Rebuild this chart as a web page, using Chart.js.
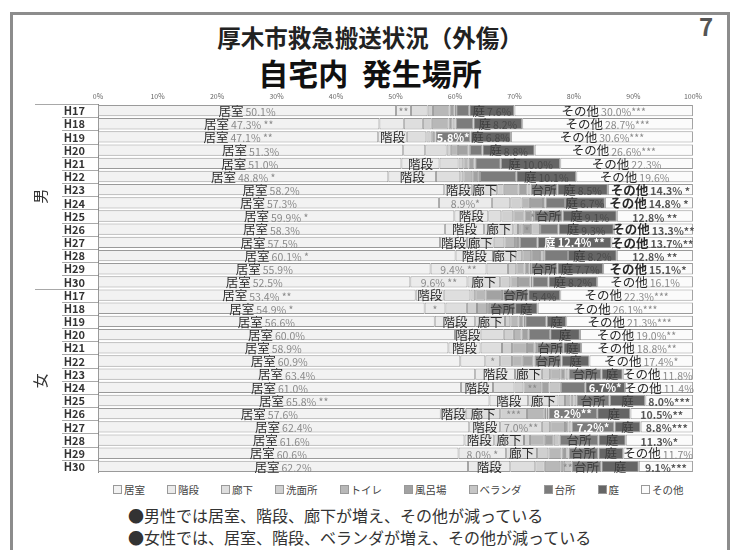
<!DOCTYPE html>
<html>
<head>
<meta charset="utf-8">
<script src="https://cdn.jsdelivr.net/npm/chart.js@4.4.1/dist/chart.umd.min.js"></script>
<style>
  body { margin: 0; width: 734px; height: 550px; overflow: hidden; background: #fff; position: relative;
         font-family: "Noto Sans CJK JP", sans-serif; }
  #frame { position: absolute; left: 10px; top: 12px; width: 720px; height: 570px; border: 3px solid #8c8c8c; box-sizing: border-box; }
  #t1 { position: absolute; left: 0; width: 740px; top: 21px; text-align: center; font-size: 23.5px; font-weight: 700; color: #222; line-height: 32px; }
  #t2 { position: absolute; left: 0; width: 740px; top: 51px; text-align: center; font-size: 30px; font-weight: 700; color: #111; line-height: 42px; }
  #page { position: absolute; left: 699px; top: 8px; font-size: 24px; font-weight: 700; color: #555; }
  #wrap { position: absolute; left: 30px; top: 88px; }
  #legend { position: absolute; left: 113px; top: 482px; display: flex; gap: 22px; font-size: 10.5px; color: #444; }
  #legend span.box { display: inline-block; width: 7px; height: 7px; border: 1px solid #999; margin-right: 2px; vertical-align: 0px; }
  .note { position: absolute; left: 128px; font-size: 16px; color: #333; line-height: 22px; }
</style>
</head>
<body>
<div id="frame"></div>
<div id="t1">厚木市救急搬送状況（外傷）</div>
<div id="t2">自宅内&nbsp;&nbsp;発生場所</div>
<div id="page">7</div>
<div id="wrap"><canvas id="chart" width="675" height="385"></canvas></div>
<div id="legend"></div>
<div class="note" style="top:504px">●男性では居室、階段、廊下が増え、その他が減っている</div>
<div class="note" style="top:526px">●女性では、居室、階段、ベランダが増え、その他が減っている</div>

<script>
const years = ["H17", "H18", "H19", "H20", "H21", "H22", "H23", "H24", "H25", "H26", "H27", "H28", "H29", "H30"];
const rowLabels = years.concat(years); // 男 then 女
const groups = ["男", "女"];
const categories = ["居室", "階段", "廊下", "洗面所", "トイレ", "風呂場", "ベランダ", "台所", "庭", "その他"];
const colors = ["#f2f2f2", "#ebebeb", "#dedede", "#d0d0d0", "#b8b8b8", "#a2a2a2", "#c6c6c6", "#7c7c7c", "#656565", "#fbfbfb"];

// shares in %, 男 H17..H30 then 女 H17..H30
const living   = [50.1, 47.3, 47.1, 51.3, 51.0, 48.8, 58.2, 57.3, 59.9, 58.3, 57.5, 60.1, 55.9, 52.5,
                  53.4, 54.9, 56.6, 60.0, 58.9, 60.9, 63.4, 61.0, 65.8, 57.6, 62.4, 61.6, 60.6, 62.2];
const stairs   = [2.5, 4.1, 4.8, 3.7, 6.4, 8.0, 4.7, 8.9, 5.7, 6.6, 4.5, 6.3, 9.4, 9.6,
                  4.7, 3.5, 6.8, 4.3, 5.4, 4.2, 6.7, 5.4, 6.5, 4.2, 5.2, 5.0, 8.0, 7.1];
const hallway  = [2.8, 3.2, 3.3, 3.6, 3.2, 4.1, 4.2, 3.1, 2.2, 4.9, 4.5, 3.9, 3.6, 5.5,
                  4.5, 3.6, 5.0, 3.9, 3.6, 2.5, 4.5, 3.6, 5.1, 5.8, 7.0, 5.0, 5.2, 4.2];
const washroom = [0.9, 1.5, 0.7, 0.7, 0.8, 0.5, 1.1, 1.9, 2.0, 0.8, 1.8, 1.0, 1.4, 1.7,
                  0.8, 1.7, 0.9, 1.7, 1.7, 2.0, 1.4, 1.5, 1.1, 4.5, 1.4, 1.0, 1.9, 1.6];
const toilet   = [2.8, 2.8, 0.6, 1.2, 0.9, 1.5, 2.5, 1.4, 1.9, 0.8, 1.8, 1.5, 1.4, 1.3,
                  1.7, 1.7, 1.4, 1.3, 2.5, 1.8, 1.7, 3.0, 0.9, 3.0, 2.5, 2.5, 2.2, 2.6];
const bath     = [0.8, 0.7, 0.2, 1.8, 1.0, 1.0, 1.5, 2.2, 1.1, 1.4, 0.5, 1.5, 0.8, 2.1,
                  2.8, 0.5, 0.8, 1.2, 1.3, 1.8, 0.9, 1.4, 0.5, 0.3, 0.6, 1.5, 0.6, 0.6];
const veranda  = [0.3, 0.5, 0.1, 0.2, 0.1, 0.3, 0.5, 0.4, 0.5, 1.5, 0.3, 0.7, 0.3, 0.3,
                  0.2, 0.0, 0.3, 0.0, 0.4, 0.2, 0.5, 1.9, 0.5, 0.3, 0.5, 1.0, 0.6, 1.3];
const kitchen  = [2.2, 3.0, 5.8, 2.1, 4.3, 6.1, 4.5, 3.3, 4.8, 3.1, 3.0, 4.0, 4.4, 2.7,
                  4.2, 4.2, 3.6, 3.6, 4.4, 4.5, 5.5, 4.1, 5.6, 8.2, 7.2, 6.5, 5.0, 5.0];
const garden   = [7.6, 8.2, 6.8, 8.8, 10.0, 10.1, 8.5, 6.7, 9.1, 9.3, 12.4, 8.2, 7.7, 8.2,
                  5.4, 3.8, 3.3, 5.0, 3.0, 4.7, 3.6, 6.7, 6.0, 5.6, 4.4, 4.6, 4.2, 6.3];
const other    = [30.0, 28.7, 30.6, 26.6, 22.3, 19.6, 14.3, 14.8, 12.8, 13.3, 13.7, 12.8, 15.1, 16.1,
                  22.3, 26.1, 21.3, 19.0, 18.8, 17.4, 11.8, 11.4, 8.0, 10.5, 8.8, 11.3, 11.7, 9.1];

// labels in the cells: "name|value", "!" = white bold, "#" = bold
const livingMarks = ["", " **", " **", "", "", " *", "", "", " *", "", "", " *", "", "",
                     " **", " *", "", "", "", "", "", "", " **", "", "", "", "", ""];
const stairsLabels = ["|**", "", "階段", "", "階段", "階段", "階段", "|8.9%*", "階段", "階段", "階段", "階段", "|9.4% **", "|9.6% **",
                      "階段", "|*", "階段", "階段", "階段", "", "階段", "階段", "階段", "階段", "階段", "階段", "|8.0% *", "階段"];
const hallLabels = ["", "", "", "", "", "", "廊下", "", "", "廊下", "廊下", "廊下", "", "廊下",
                    "", "", "廊下", "", "", "|*", "廊下", "", "廊下", "廊下", "|7.0%**", "廊下", "廊下", ""];
const washLabels = Array(28).fill("");
washLabels[23] = "|***";
const toiletLabels = Array(28).fill("");
toiletLabels[21] = "|**";
const bathLabels = Array(28).fill("");
bathLabels[9] = "|*";
const verandaLabels = Array(28).fill("");
verandaLabels[8] = "|*";
verandaLabels[27] = "|**";
const kitchenLabels = ["", "", "!5.8%*", "", "", "", "台所", "", "台所", "", "", "", "台所", "",
                       "台所", "台所", "", "", "台所", "台所", "台所", "", "台所", "!8.2%**", "!7.2%*", "台所", "台所", "台所"];
const gardenLabels = ["庭|7.6%", "庭|8.2%", "庭|6.8%", "庭|8.8%", "庭|10.0%", "庭|10.1%", "庭|8.5%", "庭|6.7%", "庭|9.1%", "庭|9.3%", "!庭 12.4% **", "庭|8.2%", "庭|7.7%", "庭|8.2%",
                      "|5.4%", "庭", "庭", "庭", "庭", "庭", "庭", "!6.7%*", "庭", "庭", "庭", "庭", "庭", "庭"];
const otherLabels = ["その他|30.0%***", "その他|28.7%***", "その他|30.6%***", "その他|26.6%***", "その他|22.3%", "その他|19.6%",
                     "#その他|14.3% *", "#その他|14.8% *", "#|12.8% **", "#その他|13.3%**", "#その他|13.7%**", "#|12.8% **", "#その他|15.1%*", "その他|16.1%",
                     "その他|22.3%***", "その他|26.1%***", "その他|21.3%***", "その他|19.0%**", "その他|18.8%**", "その他|17.4%*", "その他|11.8%",
                     "その他|11.4%", "#|8.0%***", "#|10.5%**", "#|8.8%***", "#|11.3%*", "その他|11.7%", "#|9.1%***"];
const livingLabels = living.map((v, i) => "居室|" + v.toFixed(1) + "%" + livingMarks[i]);

const series = [living, stairs, hallway, washroom, toilet, bath, veranda, kitchen, garden, other];
const cellLabels = [livingLabels, stairsLabels, hallLabels, washLabels, toiletLabels, bathLabels, verandaLabels, kitchenLabels, gardenLabels, otherLabels];

const FONT = '"Noto Sans CJK JP", sans-serif';

const cellLabelPlugin = {
  id: "cellLabels",
  afterDatasetsDraw(chart) {
    const ctx = chart.ctx;
    ctx.save();
    ctx.textBaseline = "middle";
    chart.data.datasets.forEach((ds, di) => {
      const meta = chart.getDatasetMeta(di);
      const dark = di >= 7 && di <= 8;
      meta.data.forEach((bar, j) => {
        let txt = cellLabels[di][j];
        if (!txt) return;
        const cx = (bar.x + bar.base) / 2;
        const cy = bar.y + 0.5;
        if (txt[0] === "!") {
          ctx.font = "700 11px " + FONT;
          ctx.fillStyle = "#ffffff";
          ctx.textAlign = "center";
          ctx.fillText(txt.slice(1), cx, cy);
          return;
        }
        let bold = false;
        if (txt[0] === "#") { bold = true; txt = txt.slice(1); }
        const parts = txt.split("|");
        const name = parts[0];
        const val = parts[1] || "";
        const nameFont = (bold ? "700 " : "400 ") + "12.5px " + FONT;
        const valFont = (bold ? "700 " : "400 ") + "10.5px " + FONT;
        ctx.font = nameFont;
        const wn = name ? ctx.measureText(name).width : 0;
        ctx.font = valFont;
        const wv = val ? ctx.measureText(val).width : 0;
        const gap = name && val ? 2 : 0;
        let x = cx - (wn + gap + wv) / 2;
        ctx.textAlign = "left";
        if (name) {
          ctx.font = nameFont;
          ctx.fillStyle = dark ? "#3c3c3c" : "#2a2a2a";
          ctx.fillText(name, x, cy);
          x += wn + gap;
        }
        if (val) {
          ctx.font = valFont;
          ctx.fillStyle = dark ? "#4a4a4a" : (bold ? "#555" : "#8a8a8a");
          ctx.fillText(val, x, cy + 1);
        }
      });
    });
    ctx.restore();
  }
};

// year labels, group labels and the separator lines of the two-level category axis
const groupPlugin = {
  id: "groupAxis",
  afterDraw(chart) {
    const ctx = chart.ctx;
    const y = chart.scales.y;
    const left = chart.chartArea.left;
    const n = rowLabels.length;
    const step = (y.bottom - y.top) / n;
    ctx.save();
    ctx.strokeStyle = "#a8a8a8";
    ctx.lineWidth = 1;
    for (let i = 0; i <= n; i++) {
      const yy = Math.round(y.top + i * step) + 0.5;
      const x0 = (i % 14 === 0) ? 5 : 32;
      ctx.beginPath();
      ctx.moveTo(x0, yy);
      ctx.lineTo(left, yy);
      ctx.stroke();
    }
    ctx.fillStyle = "#333";
    ctx.font = "700 11px " + FONT;
    ctx.textAlign = "right";
    ctx.textBaseline = "middle";
    rowLabels.forEach((lab, i) => {
      ctx.fillText(lab, left - 13, y.getPixelForValue(i) + 0.5);
    });
    ctx.font = "400 15px " + FONT;
    ctx.textAlign = "center";
    groups.forEach((g, k) => {
      const cy = y.top + (k * 14 + 7) * step;
      ctx.save();
      ctx.translate(10, cy);
      ctx.rotate(-Math.PI / 2);
      ctx.fillText(g, 0, 0);
      ctx.restore();
    });
    ctx.restore();
  }
};

const chart = new Chart(document.getElementById("chart"), {
  type: "bar",
  data: {
    labels: rowLabels,
    datasets: categories.map((c, i) => ({
      label: c,
      data: series[i],
      backgroundColor: colors[i],
      borderColor: "#9a9a9a",
      borderWidth: 1,
      borderSkipped: false,
      barPercentage: 0.86,
      categoryPercentage: 1
    }))
  },
  options: {
    indexAxis: "y",
    responsive: false,
    animation: false,
    devicePixelRatio: 1,
    layout: { padding: { right: 10, top: 0, bottom: 0, left: 0 } },
    plugins: { legend: { display: false }, tooltip: { enabled: false } },
    scales: {
      x: {
        position: "top",
        stacked: true,
        min: 0,
        max: 100,
        ticks: { stepSize: 10, callback: (v) => v + "%", font: { size: 7, family: FONT }, color: "#666", padding: 3, maxRotation: 0 },
        grid: { display: false, drawTicks: false },
        border: { display: false },
        afterFit(scale) { scale.height = 16; }
      },
      y: {
        stacked: true,
        ticks: { display: false },
        grid: { display: false, drawTicks: false },
        border: { display: true, color: "#888" },
        afterFit(scale) { scale.width = 68; }
      }
    }
  },
  plugins: [cellLabelPlugin, groupPlugin]
});

// legend from the datasets
const legend = document.getElementById("legend");
chart.data.datasets.forEach((ds) => {
  const item = document.createElement("span");
  item.innerHTML = '<span class="box" style="background:' + ds.backgroundColor + '"></span>' + ds.label;
  legend.appendChild(item);
});
</script>
</body>
</html>
